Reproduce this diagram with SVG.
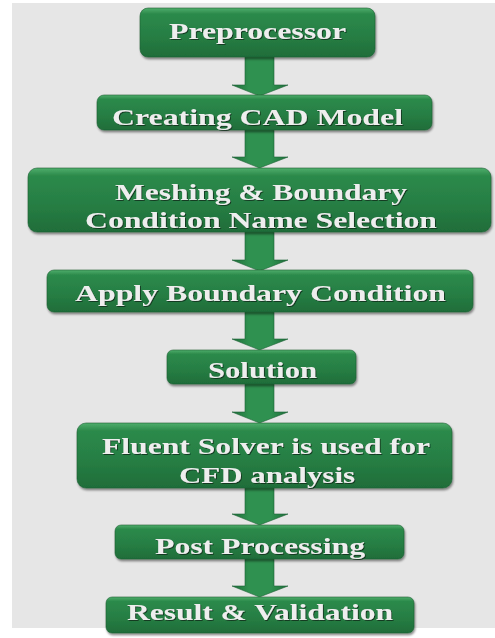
<svg xmlns="http://www.w3.org/2000/svg" width="495" height="638" viewBox="0 0 495 638">
<defs>
<linearGradient id="boxg" x1="0" y1="0" x2="0" y2="1">
<stop offset="0" stop-color="#4fae6c"/>
<stop offset="0.12" stop-color="#2c8a4b"/>
<stop offset="0.6" stop-color="#267d43"/>
<stop offset="1" stop-color="#1f6d39"/>
</linearGradient>
<linearGradient id="arrg" x1="0" y1="0" x2="1" y2="0">
<stop offset="0" stop-color="#1f6e3a"/>
<stop offset="0.3" stop-color="#2f9150"/>
<stop offset="0.7" stop-color="#2f9150"/>
<stop offset="1" stop-color="#1f6e3a"/>
</linearGradient>
<filter id="sh" x="-5%" y="-10%" width="110%" height="130%">
<feDropShadow dx="1" dy="2" stdDeviation="1.2" flood-color="#000" flood-opacity="0.45"/>
</filter>
<filter id="tsh" x="-5%" y="-20%" width="110%" height="150%">
<feDropShadow dx="1" dy="1" stdDeviation="0.6" flood-color="#0a2a14" flood-opacity="0.8"/>
</filter>
</defs>
<style>
.box{fill:url(#boxg);filter:url(#sh);stroke:#1c5f33;stroke-width:0.6}
.arr{fill:url(#arrg);stroke:#1c6335;stroke-width:0.6}
.t{font-family:"Liberation Serif","Times New Roman",serif;font-weight:bold;font-size:24px;fill:#eeeeee;filter:url(#tsh)}
</style>
<rect x="12" y="3" width="483" height="625" fill="#e6e6e6"/>
<g id="connectors">
<path class="arr" d="M245,57 H274 V85 H288 L259.5,96 L232,85 H245 Z"/>
<path class="arr" d="M245,130 H274 V157 H288 L259.5,168 L232,157 H245 Z"/>
<path class="arr" d="M245,232 H274 V260 H288 L259.5,271 L232,260 H245 Z"/>
<path class="arr" d="M245,312 H274 V339 H288 L259.5,350 L232,339 H245 Z"/>
<path class="arr" d="M245,384 H274 V412 H288 L259.5,423 L232,412 H245 Z"/>
<path class="arr" d="M245,488 H274 V514 H288 L259.5,525 L232,514 H245 Z"/>
<path class="arr" d="M245,559 H274 V586 H288 L259.5,597 L232,586 H245 Z"/>
</g>
<g id="n1"><rect class="box" x="140" y="8" width="235" height="49" rx="8"/>
<text class="t" x="169" y="39" textLength="177" lengthAdjust="spacingAndGlyphs">Preprocessor</text></g>
<g id="n2"><rect class="box" x="97" y="95" width="335" height="35" rx="7"/>
<text class="t" x="112" y="125" textLength="291" lengthAdjust="spacingAndGlyphs">Creating CAD Model</text></g>
<g id="n3"><rect class="box" x="28" y="168" width="463" height="64" rx="9"/>
<text class="t" x="115" y="200" textLength="292" lengthAdjust="spacingAndGlyphs">Meshing &amp; Boundary</text>
<text class="t" x="85" y="228" textLength="352" lengthAdjust="spacingAndGlyphs">Condition Name Selection</text></g>
<g id="n4"><rect class="box" x="47" y="270" width="426" height="42" rx="7"/>
<text class="t" x="75" y="301" textLength="371" lengthAdjust="spacingAndGlyphs">Apply Boundary Condition</text></g>
<g id="n5"><rect class="box" x="167" y="350" width="189" height="34" rx="6"/>
<text class="t" x="208" y="378" textLength="109" lengthAdjust="spacingAndGlyphs">Solution</text></g>
<g id="n6"><rect class="box" x="77" y="423" width="375" height="65" rx="9"/>
<text class="t" x="102" y="454" textLength="328" lengthAdjust="spacingAndGlyphs">Fluent Solver is used for</text>
<text class="t" x="179" y="483" textLength="176" lengthAdjust="spacingAndGlyphs">CFD analysis</text></g>
<g id="n7"><rect class="box" x="115" y="525" width="289" height="34" rx="6"/>
<text class="t" x="155" y="554" textLength="210" lengthAdjust="spacingAndGlyphs">Post Processing</text></g>
<g id="n8"><rect class="box" x="106" y="597" width="308" height="36" rx="6"/>
<text class="t" x="127" y="620" textLength="266" lengthAdjust="spacingAndGlyphs">Result &amp; Validation</text></g>
</svg>
